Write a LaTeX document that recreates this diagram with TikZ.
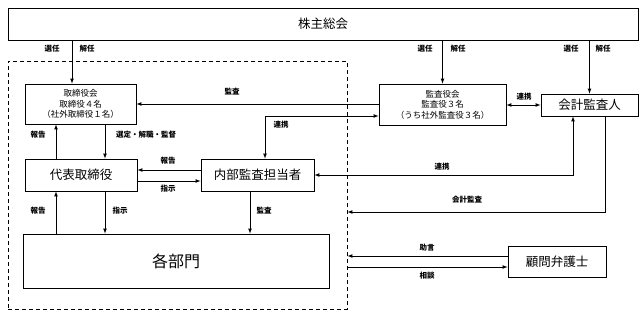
\documentclass[tikz,border=0pt]{standalone}
\usepackage{fontspec}
\setmainfont{Noto Sans CJK JP}
\tikzset{
  caja/.style={draw, line width=0.8pt, inner sep=0pt, align=center},
  marco/.style={draw, line width=0.8pt, dash pattern=on 4pt off 3pt, inner sep=0pt},
  flecha/.style={->, >=latex, line width=0.7pt},
  doble/.style={<->, >=latex, line width=0.7pt},
  etiq/.style={font=\bfseries\fontsize{7.5}{8}\selectfont, inner sep=0pt},
  grande/.style={font=\fontsize{12.5}{14}\selectfont},
  mediana/.style={font=\fontsize{8.5}{10.5}\selectfont},
}
\begin{document}
\begin{tikzpicture}[x=1pt, y=-1pt]
    \useasboundingbox (0,0) rectangle (644,315);

    % Marco de la empresa y cajas principales.
    \node[marco, minimum width=339pt, minimum height=248pt] (empresa) at (177.5,185) {};
    \node[caja, grande, minimum width=630pt, minimum height=32pt] (soukai) at (323,24) {株主総会};
    \node[caja, mediana, minimum width=111pt, minimum height=40pt] (torikai) at (80.5,104)
        {取締役会\\取締役４名\\（社外取締役１名）};
    \node[caja, mediana, minimum width=127pt, minimum height=41pt] (kansa) at (442.5,104.5)
        {監査役会\\監査役３名\\（うち社外監査役３名）};
    \node[caja, grande, minimum width=97pt, minimum height=22pt] (kaikei) at (589.5,105) {会計監査人};
    \node[caja, grande, minimum width=112pt, minimum height=32pt] (daihyo) at (81,175) {代表取締役};
    \node[caja, grande, minimum width=113pt, minimum height=32pt] (naibu) at (257.5,175) {内部監査担当者};
    \node[caja, font=\fontsize{16}{18}\selectfont, minimum width=306pt, minimum height=54pt] (bumon) at (176,261) {各部門};
    \node[caja, grande, minimum width=98pt, minimum height=31pt] (komon) at (557,261.5) {顧問弁護士};

    % Flechas desde el 株主総会.
    \draw[flecha] (soukai.south -| 72,0) -- (torikai.north -| 72,0);
    \draw[flecha] (soukai.south -| kansa.north) -- (kansa.north);
    \draw[flecha] (soukai.south -| kaikei.north) -- (kaikei.north);

    % Relaciones del 監査役会 y del 会計監査人.
    \draw[flecha] (kansa.west |- torikai.east) -- (torikai.east);
    \draw[doble] (naibu.north -| 265,0) |- (kansa.west |- 0,116);
    \draw[doble] (kansa.east |- kaikei.west) -- (kaikei.west);
    \draw[doble] (kaikei.south -| 573,0) |- (naibu.east);
    \draw[flecha] (kaikei.south -| 605,0) |- (empresa.east |- 0,212);

    % Dentro de la empresa.
    \draw[flecha] (daihyo.north -| 56,0) -- (torikai.south -| 56,0);
    \draw[flecha] (torikai.south -| 105,0) -- (daihyo.north -| 105,0);
    \draw[flecha] (naibu.west |- 0,170) -- (daihyo.east |- 0,170);
    \draw[flecha] (daihyo.east |- 0,181) -- (naibu.west |- 0,181);
    \draw[flecha] (bumon.north -| 56,0) -- (daihyo.south -| 56,0);
    \draw[flecha] (daihyo.south -| 105,0) -- (bumon.north -| 105,0);
    \draw[flecha] (naibu.south -| 250,0) -- (bumon.north -| 250,0);

    % 顧問弁護士.
    \draw[flecha] (komon.west |- 0,256) -- (empresa.east |- 0,256);
    \draw[flecha] (empresa.east |- 0,267) -- (komon.west |- 0,267);

    % Etiquetas.
    \node[etiq] (lSen1) at (52,49) {選任};
    \node[etiq] (lKai1) at (87,49) {解任};
    \node[etiq] (lSen2) at (425,49) {選任};
    \node[etiq] (lKai2) at (458,49) {解任};
    \node[etiq] (lSen3) at (571,49) {選任};
    \node[etiq] (lKai3) at (603,49) {解任};
    \node[etiq] (lKansa1) at (232,92) {監査};
    \node[etiq] (lRenkei1) at (281,125) {連携};
    \node[etiq] (lRenkei2) at (524,97) {連携};
    \node[etiq] (lHokoku1) at (38,135) {報告};
    \node[etiq] (lSentei) at (146,135) {選定・解職・監督};
    \node[etiq] (lHokoku2) at (168,161) {報告};
    \node[etiq] (lShiji1) at (168,189) {指示};
    \node[etiq] (lRenkei3) at (442,167) {連携};
    \node[etiq] (lKaikei) at (467,200) {会計監査};
    \node[etiq] (lHokoku3) at (38,211) {報告};
    \node[etiq] (lShiji2) at (120,211) {指示};
    \node[etiq] (lKansa2) at (264,211) {監査};
    \node[etiq] (lJogen) at (427,248) {助言};
    \node[etiq] (lSodan) at (427,276) {相談};
\end{tikzpicture}
\end{document}
